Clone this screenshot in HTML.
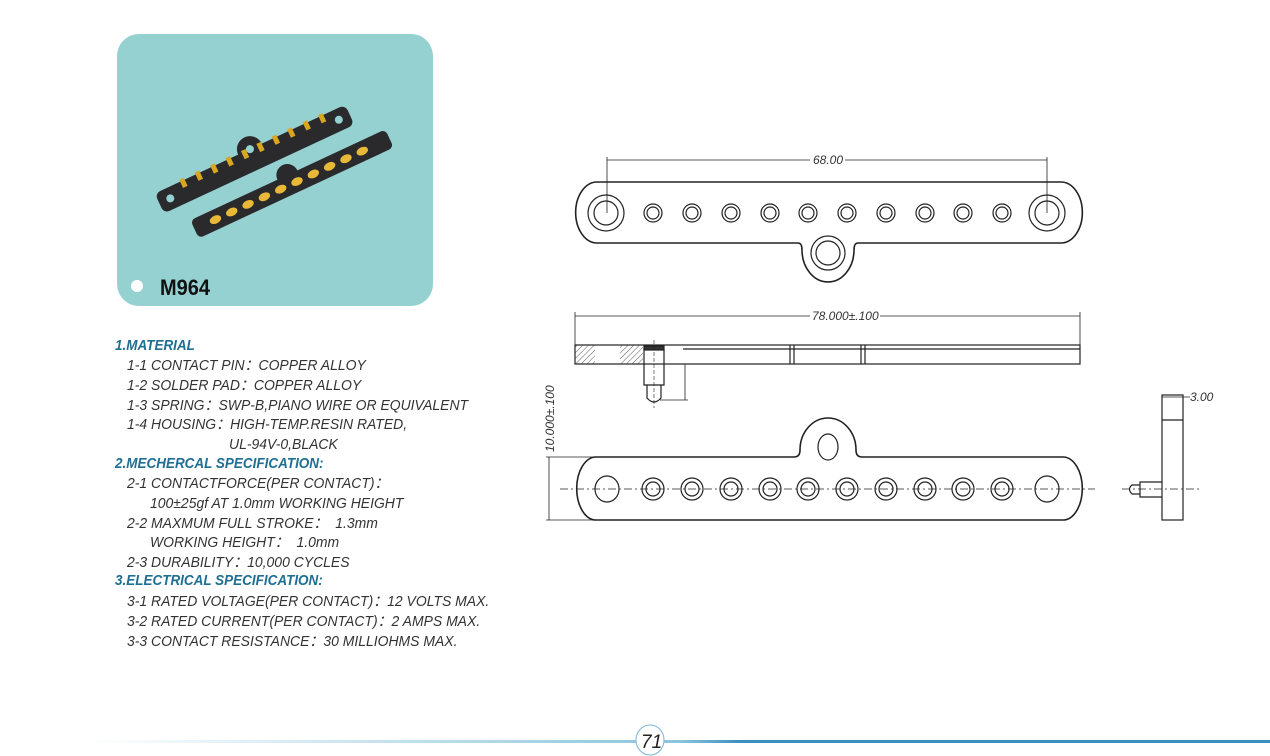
<!DOCTYPE html>
<html><head><meta charset="utf-8"><style>
body{margin:0;width:1270px;height:756px;background:#fff;overflow:hidden;position:relative;font-family:"Liberation Sans",sans-serif}
.t{position:absolute;font-style:italic;font-size:15px;line-height:17px;color:#333;white-space:nowrap;transform-origin:0 0;transform:scaleX(0.93)}
.h{color:#1f6f93;font-weight:bold;font-size:14.5px}
</style></head><body>
<svg width="1270" height="756" style="position:absolute;left:0;top:0">
<defs>
<pattern id="hp" width="4" height="4" patternUnits="userSpaceOnUse" patternTransform="rotate(45)"><line x1="0" y1="0" x2="0" y2="4" stroke="#333" stroke-width="0.8"/></pattern>
<linearGradient id="fg" x1="0" x2="1"><stop offset="0" stop-color="#fff"/><stop offset="0.5" stop-color="#8cc4dc"/><stop offset="0.55" stop-color="#3b8fc0"/><stop offset="1" stop-color="#3b8fc0"/></linearGradient>
</defs>
<rect x="117" y="34" width="316" height="272" rx="22" fill="#96d1d1"/>
<g transform="rotate(-25 255 160)">
<rect x="150" y="148" width="210" height="22" rx="6" fill="#2a2a2c"/>
<circle cx="255" cy="148" r="13" fill="#2a2a2c"/>
<circle cx="255" cy="148" r="4" fill="#96d1d1"/>
<circle cx="162" cy="159" r="4" fill="#96d1d1"/><circle cx="348" cy="159" r="4" fill="#96d1d1"/>
<g fill="#d9a620"><rect x="178" y="146" width="5" height="9"/><rect x="195" y="146" width="5" height="9"/><rect x="212" y="146" width="5" height="9"/><rect x="229" y="146" width="5" height="9"/><rect x="246" y="146" width="5" height="9"/><rect x="263" y="146" width="5" height="9"/><rect x="280" y="146" width="5" height="9"/><rect x="297" y="146" width="5" height="9"/><rect x="314" y="146" width="5" height="9"/><rect x="331" y="146" width="5" height="9"/></g>
</g>
<g transform="rotate(-25 292 185)">
<rect x="185" y="174" width="215" height="20" rx="5" fill="#2a2a2c"/>
<circle cx="292" cy="174" r="11" fill="#2a2a2c"/>
<g fill="#e8b838"><ellipse cx="208" cy="184" rx="6" ry="4"/><ellipse cx="226" cy="184" rx="6" ry="4"/><ellipse cx="244" cy="184" rx="6" ry="4"/><ellipse cx="262" cy="184" rx="6" ry="4"/><ellipse cx="280" cy="184" rx="6" ry="4"/><ellipse cx="298" cy="184" rx="6" ry="4"/><ellipse cx="316" cy="184" rx="6" ry="4"/><ellipse cx="334" cy="184" rx="6" ry="4"/><ellipse cx="352" cy="184" rx="6" ry="4"/><ellipse cx="370" cy="184" rx="6" ry="4"/></g>
</g>
<circle cx="137" cy="286" r="6" fill="#fff"/>
<text x="160" y="295" font-family="Liberation Sans" font-weight="bold" font-size="22" fill="#111" textLength="50" lengthAdjust="spacingAndGlyphs">M964</text>

<g fill="none" stroke="#222" stroke-width="1.2">
<path d="M597 182 H1061 A21 30 0 0 1 1061 243 H858 Q854 243 854 250 A26 32 0 0 1 802 250 Q802 243 798 243 H597 A21 30 0 0 1 597 182 Z" stroke-width="1.6"/>
<circle cx="606" cy="213" r="18"/><circle cx="606" cy="213" r="12"/>
<circle cx="1047" cy="213" r="18"/><circle cx="1047" cy="213" r="12"/>
<circle cx="828" cy="253" r="17"/><circle cx="828" cy="253" r="12"/>
<g id="sh"><circle cx="653" cy="213" r="9"/><circle cx="653" cy="213" r="6"/></g>
<use href="#sh" x="39"/><use href="#sh" x="78"/><use href="#sh" x="117"/><use href="#sh" x="155"/><use href="#sh" x="194"/><use href="#sh" x="233"/><use href="#sh" x="272"/><use href="#sh" x="310"/><use href="#sh" x="349"/>
<g stroke-width="0.8"><line x1="607" y1="157" x2="607" y2="213"/><line x1="1047" y1="157" x2="1047" y2="213"/><line x1="607" y1="160" x2="810" y2="160"/><line x1="845" y1="160" x2="1047" y2="160"/></g>
<g stroke-width="0.8"><line x1="575" y1="312" x2="575" y2="345"/><line x1="1080" y1="312" x2="1080" y2="345"/><line x1="575" y1="316" x2="810" y2="316"/><line x1="880" y1="316" x2="1080" y2="316"/></g>
<rect x="575" y="345" width="505" height="19"/>
<rect x="575" y="345" width="20" height="19" fill="url(#hp)" stroke="none"/>
<rect x="620" y="345" width="23" height="19" fill="url(#hp)" stroke="none"/>
<line x1="683" y1="349" x2="1080" y2="349"/>
<line x1="790" y1="345" x2="790" y2="364"/><line x1="794" y1="345" x2="794" y2="364"/><line x1="861" y1="345" x2="861" y2="364"/><line x1="865" y1="345" x2="865" y2="364"/>
<rect x="644" y="346" width="20" height="4" fill="#333"/>
<path d="M644 350 V385 H664 V350 M647 385 V398 Q654 406 661 398 V385"/>
<g stroke-width="0.8"><line x1="664" y1="364" x2="688" y2="364"/><line x1="660" y1="400" x2="688" y2="400"/><line x1="685" y1="364" x2="685" y2="400"/></g>
<line x1="654" y1="340" x2="654" y2="408" stroke-dasharray="4 2" stroke-width="0.6"/>
<path d="M596 457 H794 Q800 457 800 450 A28 32 0 0 1 856 450 Q856 457 862 457 H1063 A19 31 0 0 1 1063 520 H596 A19 31 0 0 1 596 457 Z" stroke-width="1.6"/>
<ellipse cx="828" cy="447" rx="10" ry="13"/>
<ellipse cx="607" cy="489" rx="12" ry="13"/><ellipse cx="1047" cy="489" rx="12" ry="13"/>
<g id="fh"><circle cx="653" cy="489" r="11"/><circle cx="653" cy="489" r="7"/></g>
<use href="#fh" x="39"/><use href="#fh" x="78"/><use href="#fh" x="117"/><use href="#fh" x="155"/><use href="#fh" x="194"/><use href="#fh" x="233"/><use href="#fh" x="272"/><use href="#fh" x="310"/><use href="#fh" x="349"/>
<line x1="560" y1="489" x2="1095" y2="489" stroke-dasharray="8 3 2 3" stroke-width="0.7"/>
<g stroke-width="0.8"><line x1="546" y1="457" x2="596" y2="457"/><line x1="546" y1="520" x2="596" y2="520"/><line x1="549" y1="457" x2="549" y2="520"/></g>
<rect x="1162" y="395" width="21" height="125"/>
<line x1="1162" y1="420" x2="1183" y2="420"/>
<path d="M1162 482 H1140 V497 H1162 M1140 485 H1132 Q1127 489 1132 494 H1140"/>
<line x1="1122" y1="489" x2="1200" y2="489" stroke-dasharray="8 3 2 3" stroke-width="0.7"/>
<line x1="1162" y1="397" x2="1190" y2="397" stroke-width="0.8"/>
</g>
<g font-family="Liberation Sans" font-style="italic" font-size="12" fill="#333">
<text x="813" y="164">68.00</text>
<text x="812" y="320">78.000±.100</text>
<text x="1190" y="401">3.00</text>
<text transform="translate(554 452) rotate(-90)">10.000±.100</text>
</g>
<rect x="90" y="740" width="1180" height="3" fill="url(#fg)"/>
<ellipse cx="650" cy="740" rx="14" ry="15" fill="#fff" stroke="#7ab4d4" stroke-width="1"/>
<text x="641" y="748" font-family="Liberation Sans" font-style="italic" font-size="19" fill="#222">71</text>
</svg>
<div class="t h" style="left:115px;top:338px">1.MATERIAL</div>
<div class="t" style="left:127px;top:357px">1-1 CONTACT PIN：COPPER ALLOY</div>
<div class="t" style="left:127px;top:377px">1-2 SOLDER PAD：COPPER ALLOY</div>
<div class="t" style="left:127px;top:397px">1-3 SPRING：SWP-B,PIANO WIRE OR EQUIVALENT</div>
<div class="t" style="left:127px;top:416px">1-4 HOUSING：HIGH-TEMP.RESIN RATED,</div>
<div class="t" style="left:229px;top:436px">UL-94V-0,BLACK</div>
<div class="t h" style="left:115px;top:456px">2.MECHERCAL SPECIFICATION:</div>
<div class="t" style="left:127px;top:475px">2-1 CONTACTFORCE(PER CONTACT)：</div>
<div class="t" style="left:150px;top:495px">100±25gf AT 1.0mm WORKING HEIGHT</div>
<div class="t" style="left:127px;top:515px">2-2 MAXMUM FULL STROKE：&nbsp; 1.3mm</div>
<div class="t" style="left:150px;top:534px">WORKING HEIGHT：&nbsp; 1.0mm</div>
<div class="t" style="left:127px;top:554px">2-3 DURABILITY：10,000 CYCLES</div>
<div class="t h" style="left:115px;top:573px">3.ELECTRICAL SPECIFICATION:</div>
<div class="t" style="left:127px;top:593px">3-1 RATED VOLTAGE(PER CONTACT)：12 VOLTS MAX.</div>
<div class="t" style="left:127px;top:613px">3-2 RATED CURRENT(PER CONTACT)：2 AMPS MAX.</div>
<div class="t" style="left:127px;top:633px">3-3 CONTACT RESISTANCE：30 MILLIOHMS MAX.</div>
</body></html>
